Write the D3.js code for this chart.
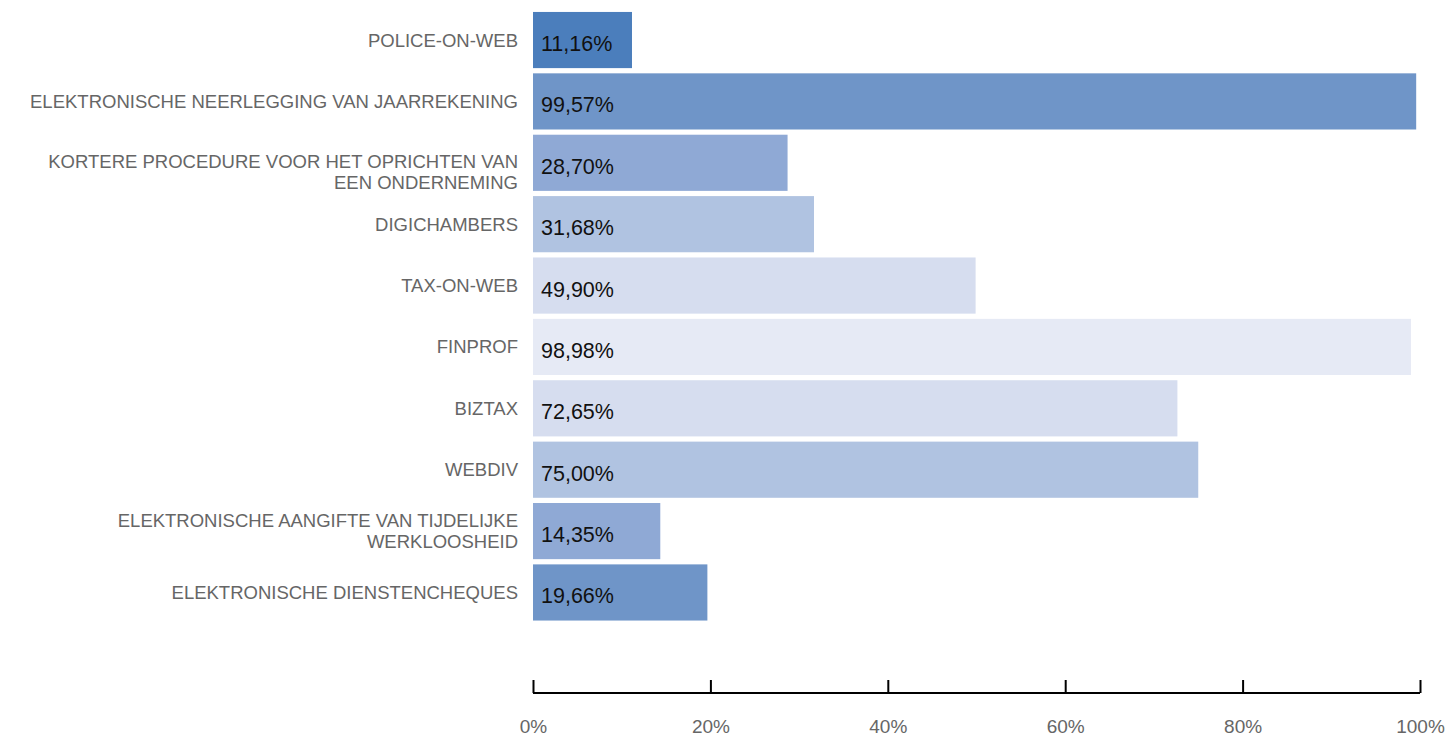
<!DOCTYPE html>
<html lang="nl">

<head>
    <meta charset="UTF-8">
    <title>Gebruik van e-diensten</title>
    <script src="https://d3js.org/d3.v7.min.js"></script>
    <style>
        body {
            margin: 0;
            background: white;
            font-family: "Liberation Sans", Arial, Helvetica, sans-serif;
        }

        .cat-label {
            fill: #666;
            font-size: 18.5px;
        }

        .value-label {
            fill: #111;
            font-size: 21.5px;
        }

        .x-axis text {
            fill: #666;
            font-size: 19px;
            font-family: "Liberation Sans", Arial, Helvetica, sans-serif;
        }
    </style>
</head>

<body>
    <svg id="vis"></svg>
    <script>
        const categories = [
            "POLICE-ON-WEB",
            "ELEKTRONISCHE NEERLEGGING VAN JAARREKENING",
            "KORTERE PROCEDURE VOOR HET OPRICHTEN VAN\nEEN ONDERNEMING",
            "DIGICHAMBERS",
            "TAX-ON-WEB",
            "FINPROF",
            "BIZTAX",
            "WEBDIV",
            "ELEKTRONISCHE AANGIFTE VAN TIJDELIJKE\nWERKLOOSHEID",
            "ELEKTRONISCHE DIENSTENCHEQUES"
        ];
        const values = [11.16, 99.57, 28.70, 31.68, 49.90, 98.98, 72.65, 75.00, 14.35, 19.66];
        const xTicks = [0, 20, 40, 60, 80, 100];

        const barColors = ["#4b7ebc", "#6f95c8", "#8fa9d5", "#b0c3e1", "#d6ddef",
            "#e6eaf5", "#d6ddef", "#b0c3e1", "#8fa9d5", "#6f95c8"];
        // the third label sits a bit lower than the others in the original
        const labelNudge = { 2: 9 };

        const width = 1448;
        const height = 736;
        const svg = d3.select("#vis").attr("width", width).attr("height", height);

        const x = d3.scaleLinear().domain([0, 100]).range([533, 1420]);
        const y = d3.scaleBand()
            .domain(d3.range(categories.length))
            .range([9.5, 623])
            .paddingInner(0.085)
            .paddingOuter(0.04);

        const fmt = v => d3.format(".2f")(v).replace(".", ",") + "%";

        // bars
        svg.append("g").selectAll("rect")
            .data(values)
            .join("rect")
            .attr("x", x(0))
            .attr("y", (d, i) => y(i))
            .attr("width", d => x(d) - x(0))
            .attr("height", y.bandwidth())
            .attr("fill", (d, i) => barColors[i]);

        // value labels inside bars
        svg.append("g").selectAll("text")
            .data(values)
            .join("text")
            .attr("class", "value-label")
            .attr("x", x(0) + 8)
            .attr("y", (d, i) => y(i) + y.bandwidth() / 2 + 11)
            .text(d => fmt(d));

        // category labels, right aligned
        const labels = svg.append("g").selectAll("text")
            .data(categories)
            .join("text")
            .attr("class", "cat-label")
            .attr("text-anchor", "end")
            .attr("transform", (d, i) => `translate(518,${y(i) + y.bandwidth() / 2 + (labelNudge[i] || 0)})`);

        labels.each(function (d) {
            const lines = d.split("\n");
            const t = d3.select(this);
            const lh = 21.5;
            const start = 6.5 - (lines.length - 1) * lh / 2;
            lines.forEach((line, j) => {
                t.append("tspan")
                    .attr("x", 0)
                    .attr("y", start + j * lh)
                    .text(line);
            });
        });

        // x axis with ticks pointing up
        const axis = svg.append("g")
            .attr("class", "x-axis")
            .attr("transform", "translate(0,693)")
            .call(d3.axisTop(x).tickValues(xTicks).tickSize(13).tickFormat(d => d + "%"));

        axis.select(".domain")
            .attr("stroke", "#000")
            .attr("stroke-width", 2)
            .attr("d", `M${x(0)},0H${x(100)}`);
        axis.selectAll(".tick line").attr("stroke", "#000").attr("stroke-width", 2);
        axis.selectAll(".tick text")
            .attr("y", 40)
            .attr("dy", 0)
            .attr("text-anchor", "middle");
    </script>
</body>

</html>
